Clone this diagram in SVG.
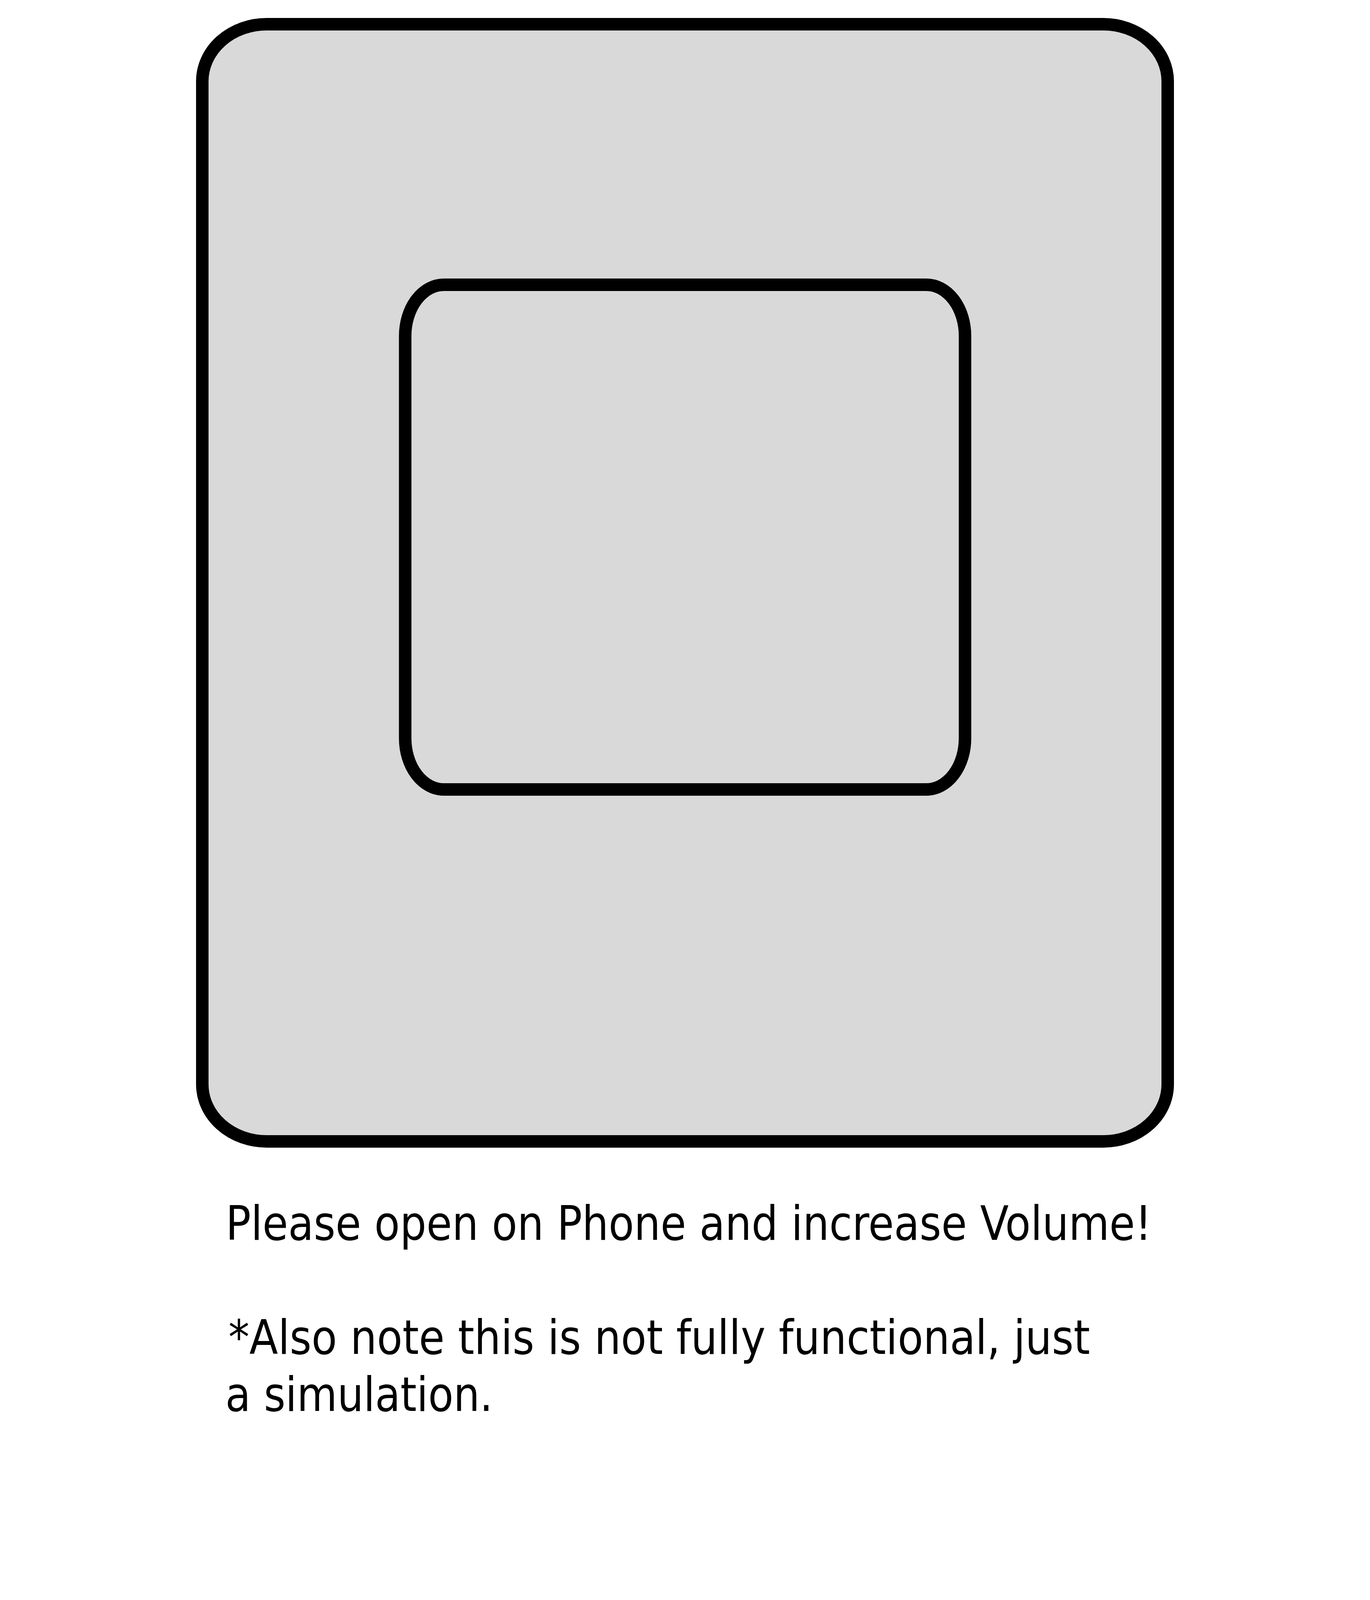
<svg xmlns="http://www.w3.org/2000/svg" width="3508" height="4960" viewBox="0 0 3508 4960">
<style>
.box{fill:#d9d9d9;stroke:#000;stroke-width:32}
.t{font-family:"DejaVu Sans Condensed","DejaVu Sans",sans-serif;font-size:122px;fill:#000}
</style>
<rect width="3508" height="4960" fill="#fff"/>
<g id="outer"><rect class="box" x="518" y="62" width="2472" height="2860" rx="165" ry="146"/></g>
<g id="screen"><rect class="box" x="1037.5" y="729" width="1433.5" height="1292" rx="99" ry="131"/></g>
<g id="caption">
<text class="t" x="578" y="3174" textLength="2371" lengthAdjust="spacingAndGlyphs">Please open on Phone and increase Volume!</text>
<text class="t" x="585" y="3466" textLength="2206" lengthAdjust="spacingAndGlyphs">*Also note this is not fully functional, just</text>
<text class="t" x="577" y="3612" textLength="685" lengthAdjust="spacingAndGlyphs">a simulation.</text>
</g>
<g id="connectors"/>
</svg>
